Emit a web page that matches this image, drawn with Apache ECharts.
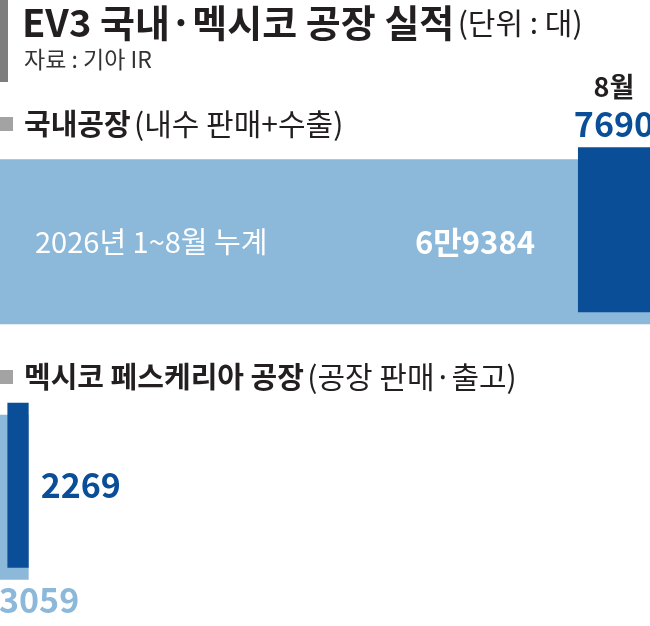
<!DOCTYPE html>
<html>
<head>
<meta charset="utf-8">
<script src="https://cdn.jsdelivr.net/npm/echarts@6/dist/echarts.min.js"></script>
<style>
  html, body { margin: 0; padding: 0; background: #fff; }
  #chart { width: 650px; height: 626px; }
</style>
</head>
<body>
<div id="chart"></div>
<script>
var plants = ['국내공장', '멕시코 페스케리아 공장']
var plantNotes = ['(내수 판매+수출)', '(공장 판매·출고)']
var cumulative = [69384, 3059]   // 2026년 1~8월 누계
var august = [7690, 2269]        // 8월
var periodLabel = '2026년 1~8월 누계'
var monthLabel = '8월'

var KR = '"Noto Sans CJK KR", sans-serif'
var ink = '#231f20'
var lightBlue = '#8cb8d9'
var darkBlue = '#0a4e98'

// 69384 -> 6만9384
function toMan(v) {
  var man = Math.floor(v / 10000)
  if (!man) return String(v)
  return man + '만' + String(v % 10000).padStart(4, '0')
}

var myChart = echarts.init(document.getElementById('chart'))

var lightLabels = [
  {
    show: true,
    position: 'insideLeft',
    distance: 35,
    formatter: function (p) {
      return '{a|' + periodLabel + '}{b|' + toMan(p.value) + '}'
    },
    rich: {
      a: { width: 380, fontSize: 29, color: '#fff', fontFamily: KR },
      b: { fontSize: 31, fontWeight: 'bold', color: '#fff', fontFamily: KR }
    }
  },
  {
    show: true,
    position: [0, '100%'],
    offset: [-1, 3],
    align: 'left',
    verticalAlign: 'top',
    formatter: function (p) { return String(p.value) },
    fontSize: 34,
    fontWeight: 'bold',
    color: lightBlue,
    fontFamily: KR
  }
]

var darkLabels = [
  {
    show: true,
    position: 'top',
    distance: 4,
    formatter: function (p) {
      return '{m|' + monthLabel + '}\n{v|' + p.value + '}'
    },
    rich: {
      m: { fontSize: 27, fontWeight: 'bold', color: ink, lineHeight: 36, fontFamily: KR },
      v: { fontSize: 34, fontWeight: 'bold', color: darkBlue, lineHeight: 38, fontFamily: KR }
    }
  },
  {
    show: true,
    position: 'right',
    distance: 12,
    formatter: function (p) { return String(p.value) },
    fontSize: 34,
    fontWeight: 'bold',
    color: darkBlue,
    fontFamily: KR
  }
]

// section headers
var headerY = [124, 377]
var headers = []
plants.forEach(function (name, i) {
  headers.push({
    type: 'rect',
    shape: { x: 0, y: headerY[i] - 7, width: 13, height: 14 },
    style: { fill: '#a3a3a3' }
  })
  headers.push({
    type: 'text',
    x: 24,
    y: headerY[i],
    style: {
      text: '{b|' + name + '} {r|' + plantNotes[i] + '}',
      verticalAlign: 'middle',
      rich: {
        b: { fontSize: 29, fontWeight: 'bold', fill: ink, fontFamily: KR },
        r: { fontSize: 30, fill: ink, fontFamily: KR }
      }
    }
  })
})

var option = {
  animation: false,
  backgroundColor: '#fff',
  graphic: [
    { type: 'rect', shape: { x: 0, y: 0, width: 8, height: 82 }, style: { fill: '#7d7d7d' } },
    {
      type: 'text',
      x: 22,
      y: 23,
      style: {
        text: '{b|EV3 국내·멕시코 공장 실적} {r|(단위 : 대)}',
        verticalAlign: 'middle',
        rich: {
          b: { fontSize: 38, fontWeight: 'bold', fill: ink, fontFamily: KR },
          r: { fontSize: 30, fill: ink, fontFamily: KR }
        }
      }
    },
    {
      type: 'text',
      x: 24,
      y: 59,
      style: {
        text: '자료 : 기아 IR',
        verticalAlign: 'middle',
        fontSize: 23,
        fill: '#333',
        fontFamily: KR
      }
    }
  ].concat(headers),
  grid: { left: 0, right: 0, top: 108, bottom: 7, containLabel: false },
  xAxis: { type: 'value', min: 0, max: cumulative[0], show: false },
  yAxis: { type: 'category', data: plants, inverse: true, show: false },
  series: [
    {
      name: 'base',
      type: 'bar',
      stack: 'aug',
      barWidth: 165,
      barGap: '-92.7%',
      silent: true,
      z: 3,
      itemStyle: { color: 'transparent' },
      data: cumulative.map(function (v, i) { return v - august[i] })
    },
    {
      name: monthLabel,
      type: 'bar',
      stack: 'aug',
      barWidth: 165,
      barGap: '-92.7%',
      z: 3,
      itemStyle: { color: darkBlue },
      data: august.map(function (v, i) { return { value: v, label: darkLabels[i] } })
    },
    {
      name: periodLabel,
      type: 'bar',
      barWidth: 165,
      barGap: '-92.7%',
      z: 2,
      itemStyle: { color: lightBlue },
      data: cumulative.map(function (v, i) { return { value: v, label: lightLabels[i] } })
    }
  ]
}
myChart.setOption(option)
</script>
</body>
</html>
